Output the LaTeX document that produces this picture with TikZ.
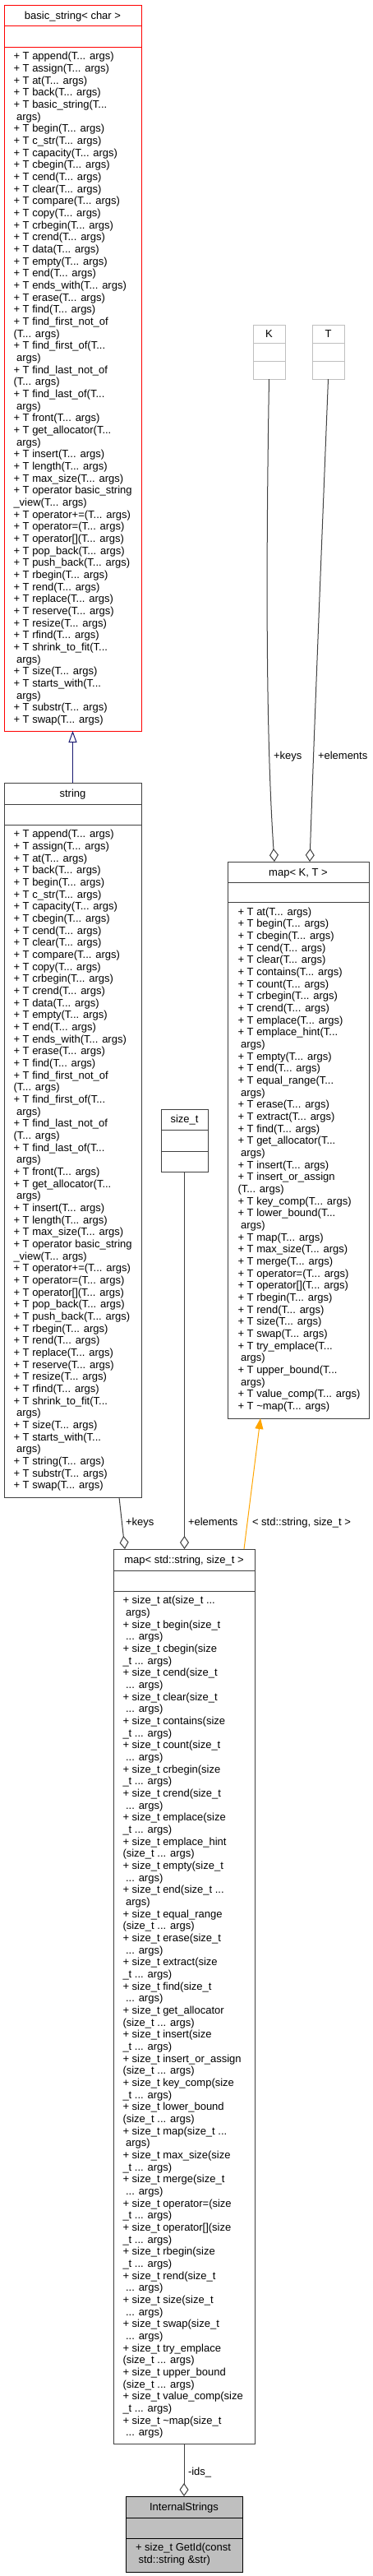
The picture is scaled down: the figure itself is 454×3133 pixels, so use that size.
\documentclass[tikz,border=0pt]{standalone}
\usepackage{fontspec}
\setmainfont{Liberation Sans}
\usetikzlibrary{arrows.meta}
\definecolor{edgegray}{HTML}{404040}
\definecolor{boxgray}{HTML}{404040}
\definecolor{navyblue}{HTML}{191970}
\definecolor{ghost}{HTML}{BFBFBF}
\definecolor{rootfill}{HTML}{BFBFBF}
\definecolor{tmplorange}{HTML}{FFA500}
\newcommand\mfont{\fontsize{13}{15}\selectfont}
\newcommand\ind{\hspace*{3.6pt}}
\newcommand\dts{...}
\newcommand\mlist[4]{\foreach \mtxt [count=\mi] in {#4} {\node[mtext] (#1-\mi) at (#2,{#3+(\mi-1)*14.67}) {\mtxt};}}
\newcommand\seps[4]{%
  \draw[#4, line width=1pt] ([yshift=-#2pt]#1.north west) -- ([yshift=-#2pt]#1.north east);
  \draw[#4, line width=1pt] ([yshift=-#3pt]#1.north west) -- ([yshift=-#3pt]#1.north east);}
\tikzset{
  classbox/.style={draw=#1, line width=1pt, anchor=north west, inner sep=0pt, outer sep=0pt},
  mtext/.style={anchor=base west, inner sep=0pt, outer sep=0pt, font=\mfont},
  ttext/.style={anchor=base, inner sep=0pt, outer sep=0pt, font=\mfont},
  lbl/.style={anchor=base west, inner sep=0pt, outer sep=0pt, font=\mfont},
  usage/.style={draw=edgegray, line width=1pt, -{Diamond[open, length=16pt, width=11pt]}},
  inherit/.style={draw=navyblue, line width=1pt, -{Triangle[open, length=14pt, width=10pt]}},
  tmpl/.style={draw=tmplorange, line width=1pt, -{Triangle[length=13pt, width=10pt, fill=tmplorange]}},
}
\begin{document}
\begin{tikzpicture}[x=1pt, y=-1pt]
\fill[white] (0,0) rectangle (454,3133);
\useasboundingbox (0,0) rectangle (454,3133);

% ---------- basic_string< char >
\node[classbox=red, minimum width=167pt, minimum height=883pt] (bs) at (5,6) {};
\seps{bs}{25}{51}{red}
\node[ttext] (bs-title) at (88.5,23) {basic\_string< char >};
\mlist{bs}{16.5}{72.7}{
{+ T append(T\dts{} args)},{+ T assign(T\dts{} args)},{+ T at(T\dts{} args)},{+ T back(T\dts{} args)},
{+ T basic\_string(T\dts},{\ind args)},{+ T begin(T\dts{} args)},{+ T c\_str(T\dts{} args)},
{+ T capacity(T\dts{} args)},{+ T cbegin(T\dts{} args)},{+ T cend(T\dts{} args)},{+ T clear(T\dts{} args)},
{+ T compare(T\dts{} args)},{+ T copy(T\dts{} args)},{+ T crbegin(T\dts{} args)},{+ T crend(T\dts{} args)},
{+ T data(T\dts{} args)},{+ T empty(T\dts{} args)},{+ T end(T\dts{} args)},{+ T ends\_with(T\dts{} args)},
{+ T erase(T\dts{} args)},{+ T find(T\dts{} args)},{+ T find\_first\_not\_of},{(T\dts{} args)},
{+ T find\_first\_of(T\dts},{\ind args)},{+ T find\_last\_not\_of},{(T\dts{} args)},
{+ T find\_last\_of(T\dts},{\ind args)},{+ T front(T\dts{} args)},{+ T get\_allocator(T\dts},
{\ind args)},{+ T insert(T\dts{} args)},{+ T length(T\dts{} args)},{+ T max\_size(T\dts{} args)},
{+ T operator basic\_string},{\_view(T\dts{} args)},{+ T operator+=(T\dts{} args)},{+ T operator=(T\dts{} args)},
{+ T operator[](T\dts{} args)},{+ T pop\_back(T\dts{} args)},{+ T push\_back(T\dts{} args)},{+ T rbegin(T\dts{} args)},
{+ T rend(T\dts{} args)},{+ T replace(T\dts{} args)},{+ T reserve(T\dts{} args)},{+ T resize(T\dts{} args)},
{+ T rfind(T\dts{} args)},{+ T shrink\_to\_fit(T\dts},{\ind args)},{+ T size(T\dts{} args)},
{+ T starts\_with(T\dts},{\ind args)},{+ T substr(T\dts{} args)},{+ T swap(T\dts{} args)}}

% ---------- string
\node[classbox=boxgray, minimum width=167pt, minimum height=869pt] (st) at (5,952) {};
\seps{st}{26}{51}{boxgray}
\node[ttext] (st-title) at (88.5,969.5) {string};
\mlist{st}{16.5}{1018.7}{
{+ T append(T\dts{} args)},{+ T assign(T\dts{} args)},{+ T at(T\dts{} args)},{+ T back(T\dts{} args)},
{+ T begin(T\dts{} args)},{+ T c\_str(T\dts{} args)},
{+ T capacity(T\dts{} args)},{+ T cbegin(T\dts{} args)},{+ T cend(T\dts{} args)},{+ T clear(T\dts{} args)},
{+ T compare(T\dts{} args)},{+ T copy(T\dts{} args)},{+ T crbegin(T\dts{} args)},{+ T crend(T\dts{} args)},
{+ T data(T\dts{} args)},{+ T empty(T\dts{} args)},{+ T end(T\dts{} args)},{+ T ends\_with(T\dts{} args)},
{+ T erase(T\dts{} args)},{+ T find(T\dts{} args)},{+ T find\_first\_not\_of},{(T\dts{} args)},
{+ T find\_first\_of(T\dts},{\ind args)},{+ T find\_last\_not\_of},{(T\dts{} args)},
{+ T find\_last\_of(T\dts},{\ind args)},{+ T front(T\dts{} args)},{+ T get\_allocator(T\dts},
{\ind args)},{+ T insert(T\dts{} args)},{+ T length(T\dts{} args)},{+ T max\_size(T\dts{} args)},
{+ T operator basic\_string},{\_view(T\dts{} args)},{+ T operator+=(T\dts{} args)},{+ T operator=(T\dts{} args)},
{+ T operator[](T\dts{} args)},{+ T pop\_back(T\dts{} args)},{+ T push\_back(T\dts{} args)},{+ T rbegin(T\dts{} args)},
{+ T rend(T\dts{} args)},{+ T replace(T\dts{} args)},{+ T reserve(T\dts{} args)},{+ T resize(T\dts{} args)},
{+ T rfind(T\dts{} args)},{+ T shrink\_to\_fit(T\dts},{\ind args)},{+ T size(T\dts{} args)},
{+ T starts\_with(T\dts},{\ind args)},{+ T string(T\dts{} args)},{+ T substr(T\dts{} args)},{+ T swap(T\dts{} args)}}

% ---------- K and T
\node[classbox=ghost, minimum width=39pt, minimum height=66pt] (K) at (308,395) {};
\seps{K}{22}{44}{ghost}
\node[ttext] (K-title) at (327.5,410.5) {K};
\node[classbox=ghost, minimum width=39pt, minimum height=66pt] (T) at (380,395) {};
\seps{T}{22}{44}{ghost}
\node[ttext] (T-title) at (399.5,410.5) {T};

% ---------- map< K, T >
\node[classbox=boxgray, minimum width=172pt, minimum height=677pt] (mk) at (277,1048) {};
\seps{mk}{25}{49}{boxgray}
\node[ttext] (mk-title) at (363,1065) {map< K, T >};
\mlist{mk}{289.5}{1113}{
{+ T at(T\dts{} args)},{+ T begin(T\dts{} args)},{+ T cbegin(T\dts{} args)},{+ T cend(T\dts{} args)},
{+ T clear(T\dts{} args)},{+ T contains(T\dts{} args)},{+ T count(T\dts{} args)},{+ T crbegin(T\dts{} args)},
{+ T crend(T\dts{} args)},{+ T emplace(T\dts{} args)},{+ T emplace\_hint(T\dts},{\ind args)},
{+ T empty(T\dts{} args)},{+ T end(T\dts{} args)},{+ T equal\_range(T\dts},{\ind args)},
{+ T erase(T\dts{} args)},{+ T extract(T\dts{} args)},{+ T find(T\dts{} args)},{+ T get\_allocator(T\dts},
{\ind args)},{+ T insert(T\dts{} args)},{+ T insert\_or\_assign},{(T\dts{} args)},
{+ T key\_comp(T\dts{} args)},{+ T lower\_bound(T\dts},{\ind args)},{+ T map(T\dts{} args)},
{+ T max\_size(T\dts{} args)},{+ T merge(T\dts{} args)},{+ T operator=(T\dts{} args)},{+ T operator[](T\dts{} args)},
{+ T rbegin(T\dts{} args)},{+ T rend(T\dts{} args)},{+ T size(T\dts{} args)},{+ T swap(T\dts{} args)},
{+ T try\_emplace(T\dts},{\ind args)},{+ T upper\_bound(T\dts},{\ind args)},
{+ T value\_comp(T\dts{} args)},{+ T \textasciitilde map(T\dts{} args)}}

% ---------- size_t
\node[classbox=boxgray, minimum width=57pt, minimum height=76pt] (sz) at (196,1349) {};
\seps{sz}{25}{51}{boxgray}
\node[ttext] (sz-title) at (224.5,1365.5) {size\_t};

% ---------- map< std::string, size_t >
\node[classbox=boxgray, minimum width=172pt, minimum height=1088pt] (ms) at (138,1884) {};
\seps{ms}{26}{51}{boxgray}
\node[ttext] (ms-title) at (224,1901.5) {map< std::string, size\_t >};
\mlist{ms}{149.5}{1950.7}{
{+ size\_t at(size\_t \dts},{\ind args)},{+ size\_t begin(size\_t},{\ind\dts{} args)},
{+ size\_t cbegin(size},{\_t \dts{} args)},{+ size\_t cend(size\_t},{\ind\dts{} args)},
{+ size\_t clear(size\_t},{\ind\dts{} args)},{+ size\_t contains(size},{\_t \dts{} args)},
{+ size\_t count(size\_t},{\ind\dts{} args)},{+ size\_t crbegin(size},{\_t \dts{} args)},
{+ size\_t crend(size\_t},{\ind\dts{} args)},{+ size\_t emplace(size},{\_t \dts{} args)},
{+ size\_t emplace\_hint},{(size\_t \dts{} args)},{+ size\_t empty(size\_t},{\ind\dts{} args)},
{+ size\_t end(size\_t \dts},{\ind args)},{+ size\_t equal\_range},{(size\_t \dts{} args)},
{+ size\_t erase(size\_t},{\ind\dts{} args)},{+ size\_t extract(size},{\_t \dts{} args)},
{+ size\_t find(size\_t},{\ind\dts{} args)},{+ size\_t get\_allocator},{(size\_t \dts{} args)},
{+ size\_t insert(size},{\_t \dts{} args)},{+ size\_t insert\_or\_assign},{(size\_t \dts{} args)},
{+ size\_t key\_comp(size},{\_t \dts{} args)},{+ size\_t lower\_bound},{(size\_t \dts{} args)},
{+ size\_t map(size\_t \dts},{\ind args)},{+ size\_t max\_size(size},{\_t \dts{} args)},
{+ size\_t merge(size\_t},{\ind\dts{} args)},{+ size\_t operator=(size},{\_t \dts{} args)},
{+ size\_t operator[](size},{\_t \dts{} args)},{+ size\_t rbegin(size},{\_t \dts{} args)},
{+ size\_t rend(size\_t},{\ind\dts{} args)},{+ size\_t size(size\_t},{\ind\dts{} args)},
{+ size\_t swap(size\_t},{\ind\dts{} args)},{+ size\_t try\_emplace},{(size\_t \dts{} args)},
{+ size\_t upper\_bound},{(size\_t \dts{} args)},{+ size\_t value\_comp(size},{\_t \dts{} args)},
{+ size\_t \textasciitilde map(size\_t},{\ind\dts{} args)}}

% ---------- InternalStrings
\node[classbox=black, fill=rootfill, minimum width=142pt, minimum height=92pt] (is) at (153,3036) {};
\seps{is}{26}{51}{black}
\node[ttext] (is-title) at (224,3053) {InternalStrings};
\mlist{is}{165}{3102.5}{{+ size\_t GetId(const},{\ind std::string \&str)}}

% ---------- connectors
\coordinate (st-keys) at (145,1821);
\coordinate (ms-keys) at (152,1884);
\coordinate (ms-tmpl) at (297,1884);
\coordinate (mk-tmpl) at (317,1725);
\coordinate (mk-keys) at (334,1048);
\coordinate (mk-elem) at (377,1048);

\draw[inherit] (st.north) -- (bs.south);
\draw[usage] (K.south) .. controls (323.5,700) and (324,900) .. (mk-keys);
\draw[usage] (T.south) .. controls (390,700) and (382,900) .. (mk-elem);
\draw[usage] (st-keys) -- (ms-keys);
\draw[usage] (sz.south) -- (sz.south |- ms.north);
\draw[tmpl] (ms-tmpl) -- (mk-tmpl);
\draw[usage] (ms.south) -- (is.north);

% ---------- labels
\node[lbl] (l-kkeys) at (333,923.5) {+keys};
\node[lbl] (l-telem) at (387,923.5) {+elements};
\node[lbl] (l-skeys) at (153,1855.5) {+keys};
\node[lbl] (l-selem) at (229,1855.5) {+elements};
\node[lbl] (l-tmpl) at (307,1855.5) {< std::string, size\_t >};
\node[lbl] (l-ids) at (229,3010.5) {-ids\_};
\end{tikzpicture}
\end{document}
